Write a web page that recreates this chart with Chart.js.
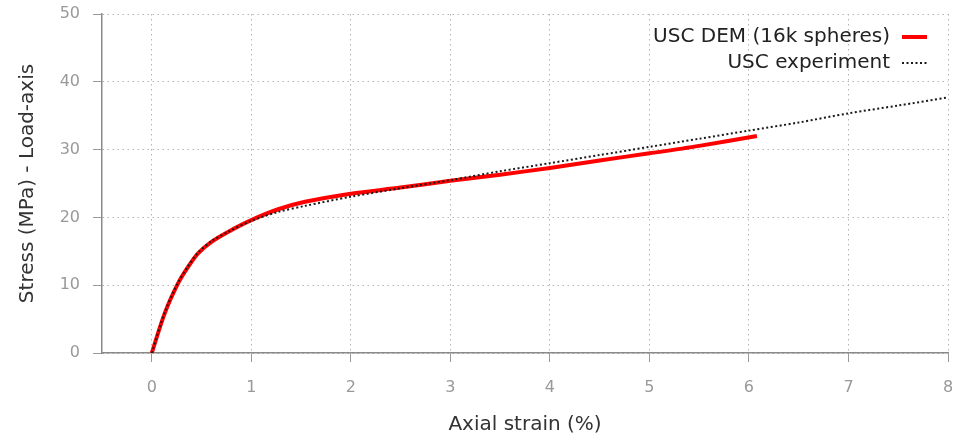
<!DOCTYPE html>
<html>
<head>
<meta charset="utf-8">
<script src="https://cdn.jsdelivr.net/npm/chart.js@4"></script>
<style>
  html, body { margin: 0; padding: 0; background: #fff; }
  #wrap { width: 960px; height: 441px; }
</style>
</head>
<body>
<div id="wrap"><canvas id="chart" width="960" height="441"></canvas></div>
<script>
// Series labels
const seriesLabels = ['USC DEM (16k spheres)', 'USC experiment'];

// USC DEM (16k spheres) - axial strain (%) / stress (MPa)
const demStrain = [0, 0.13, 0.265, 0.365, 0.465, 0.6, 0.77, 1.0, 1.27, 1.54, 2.0, 2.5, 3.0, 3.5, 4.0, 4.5, 5.0, 5.5, 6.08];
const demStress = [0, 5.85, 10.3, 12.7, 14.7, 16.4, 17.9, 19.6, 21.2, 22.3, 23.5, 24.4, 25.4, 26.3, 27.3, 28.4, 29.45, 30.55, 32.0];

// USC experiment
const expStrain = [0, 0.13, 0.265, 0.365, 0.465, 0.6, 0.77, 1.0, 1.27, 1.54, 2.0, 2.5, 3.0, 3.5, 4.0, 4.5, 5.0, 5.5, 6.0, 6.5, 7.0, 7.5, 8.0];
const expStress = [0, 6.0, 10.4, 12.8, 14.8, 16.5, 17.9, 19.5, 20.8, 21.7, 23.05, 24.3, 25.5, 26.8, 28.0, 29.2, 30.4, 31.6, 32.8, 34.0, 35.35, 36.5, 37.7];

// Tick labels
const xTicks = [0, 1, 2, 3, 4, 5, 6, 7, 8];
const yTicks = [0, 10, 20, 30, 40, 50];

const toPoints = (xs, ys) => xs.map((x, i) => ({ x: x, y: ys[i] }));

Chart.defaults.font.family = '"DejaVu Sans", Verdana, sans-serif';

// gnuplot-style key: text first, line sample on the right
const keyPlugin = {
  id: 'gnuKey',
  afterDatasetsDraw(chart) {
    const ctx = chart.ctx;
    const textRight = 890;
    const sx1 = 902, sx2 = 927;
    const rows = [37, 63];
    ctx.save();
    ctx.font = '20px "DejaVu Sans", Verdana, sans-serif';
    ctx.textAlign = 'right';
    ctx.textBaseline = 'middle';
    chart.data.datasets.forEach((ds, i) => {
      const y = rows[i];
      ctx.fillStyle = '#222';
      ctx.fillText(ds.label, textRight, y);
      ctx.beginPath();
      ctx.strokeStyle = ds.borderColor;
      ctx.lineWidth = ds.borderWidth;
      ctx.setLineDash(ds.borderDash || []);
      ctx.moveTo(sx1, y);
      ctx.lineTo(sx2, y);
      ctx.stroke();
    });
    ctx.restore();
  }
};

// no extra label overhang padding, chart area comes from layout.padding only
const noScalePad = s => { s.paddingTop = 0; s.paddingBottom = 0; s.paddingLeft = 0; s.paddingRight = 0; };

new Chart(document.getElementById('chart'), {
  type: 'scatter',
  data: {
    datasets: [
      {
        label: seriesLabels[0],
        data: toPoints(demStrain, demStress),
        showLine: true,
        borderColor: '#ff0000',
        borderWidth: 4,
        pointRadius: 0,
        tension: 0.3,
        order: 2
      },
      {
        label: seriesLabels[1],
        data: toPoints(expStrain, expStress),
        showLine: true,
        borderColor: '#1a1a1a',
        borderWidth: 2,
        borderDash: [2, 2.5],
        pointRadius: 0,
        tension: 0.3,
        order: 1
      }
    ]
  },
  options: {
    responsive: false,
    animation: false,
    layout: { padding: { top: 14, right: 12, left: 0, bottom: 0 } },
    plugins: {
      legend: { display: false },
      tooltip: { enabled: false }
    },
    scales: {
      x: {
        type: 'linear',
        min: -0.5,
        max: 8,
        afterBuildTicks: s => { s.ticks = xTicks.map(v => ({ value: v })); },
        afterFit: s => { s.height = 88; noScalePad(s); },
        grid: { color: '#b4b4b4', tickColor: '#999', tickLength: 9, lineWidth: 1 },
        border: { color: '#8a8a8a', width: 1.5, dash: [1.5, 3.5] },
        ticks: { color: '#999', font: { size: 16 }, padding: 16, maxRotation: 0 },
        title: {
          display: true,
          text: 'Axial strain (%)',
          color: '#333',
          font: { size: 20 },
          padding: { top: 0, bottom: 4 }
        }
      },
      y: {
        type: 'linear',
        min: 0,
        max: 50,
        afterBuildTicks: s => { s.ticks = yTicks.map(v => ({ value: v })); },
        afterFit: s => { s.width = 102; noScalePad(s); },
        grid: { color: '#b4b4b4', tickColor: '#999', tickLength: 9, lineWidth: 1 },
        border: { color: '#8a8a8a', width: 1.5, dash: [1.5, 3.5] },
        ticks: { color: '#999', font: { size: 16 }, padding: 13 },
        title: {
          display: true,
          text: 'Stress (MPa) - Load-axis',
          color: '#333',
          font: { size: 20 },
          padding: { top: 16, bottom: 0 }
        }
      }
    }
  },
  plugins: [keyPlugin]
});
</script>
</body>
</html>
